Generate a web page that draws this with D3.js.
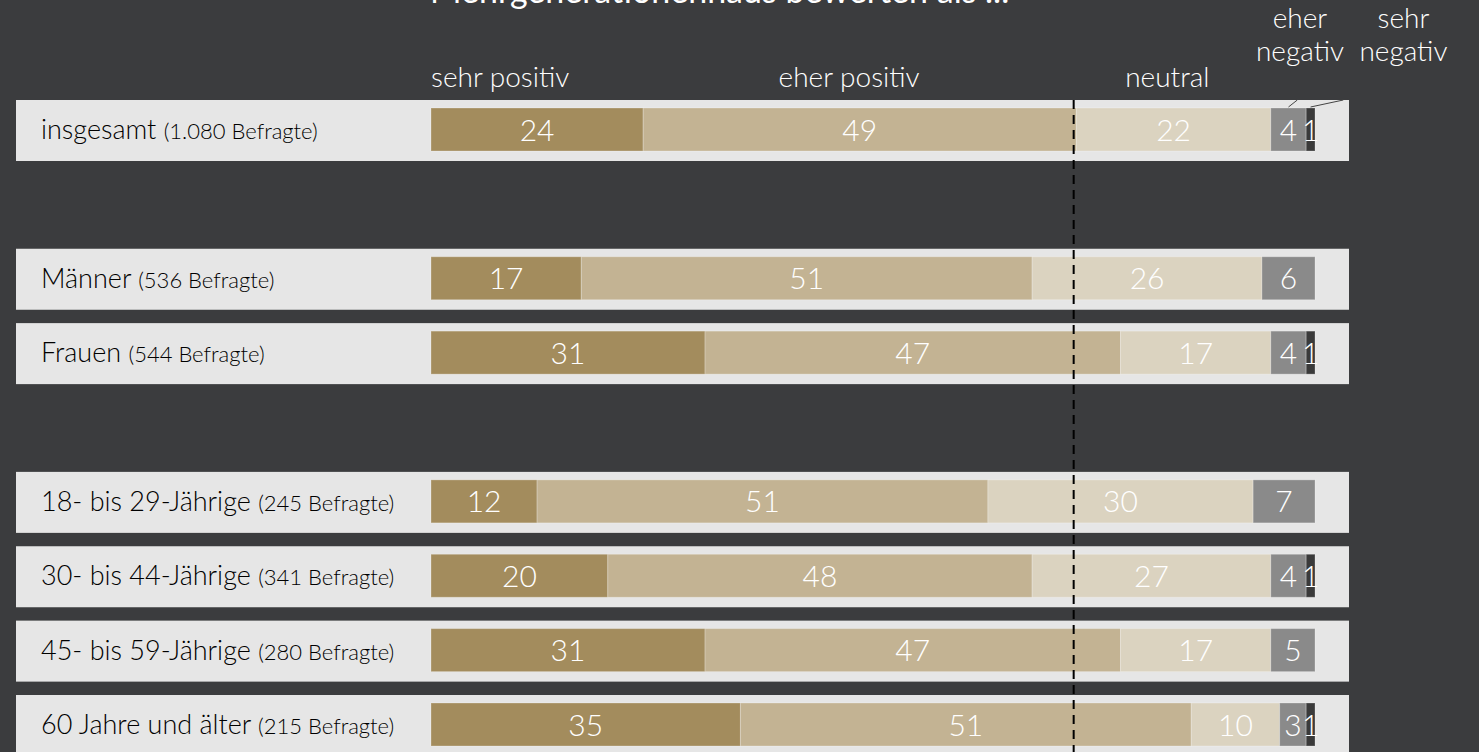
<!DOCTYPE html>
<html lang="de">
<head>
<meta charset="utf-8">
<script src="https://cdn.jsdelivr.net/npm/d3@7"></script>
<style>
  html, body { margin: 0; padding: 0; background: #3b3c3e; }
  svg { display: block; font-family: Lato, "Noto Sans", sans-serif; }
</style>
</head>
<body>
<svg id="chart" width="1479" height="752"></svg>
<script>
// Gruppen (insgesamt / Geschlecht / Alter) mit Befragtenzahl
const categories = ["insgesamt", "Männer", "Frauen", "18- bis 29-Jährige", "30- bis 44-Jährige", "45- bis 59-Jährige", "60 Jahre und älter"];
const respondents = [1080, 536, 544, 245, 341, 280, 215];
const groupIndex = [0, 1, 1, 2, 2, 2, 2];

// Anteile in Prozent
const sehrPositiv = [24, 17, 31, 12, 20, 31, 35];
const eherPositiv = [49, 51, 47, 51, 48, 47, 51];
const neutral     = [22, 26, 17, 30, 27, 17, 10];
const eherNegativ = [4, 6, 4, 7, 4, 5, 3];
const sehrNegativ = [1, 0, 1, 0, 1, 0, 1];

const seriesKeys = ["sehr positiv", "eher positiv", "neutral", "eher negativ", "sehr negativ"];
const seriesValues = [sehrPositiv, eherPositiv, neutral, eherNegativ, sehrNegativ];
const colors = ["#a38c5d", "#c3b393", "#dbd3c0", "#8a8a8a", "#3a3a3a"];
const title = "Mehrgenerationenhaus bewerten als ...";
const referenceValue = 72.7;

const svg = d3.select("#chart");
const de = d3.formatLocale({ decimal: ",", thousands: ".", grouping: [3], currency: ["", " €"] });
const fmtN = de.format(",d");

const rows = categories.map((c, i) => {
  const r = { label: c, n: respondents[i], slot: i + groupIndex[i] };
  seriesKeys.forEach((k, j) => r[k] = seriesValues[j][i]);
  return r;
});

const x = d3.scaleLinear().domain([0, 100]).range([431, 1315]);
const y = d3.scaleLinear().domain([0, 8]).range([100, 695]);
const color = d3.scaleOrdinal().domain(seriesKeys).range(colors);

const bandX0 = 16, bandX1 = 1349, bandH = 61, barTop = 8, barH = 43;

// Titel (oben angeschnitten)
svg.append("text")
  .attr("x", 430).attr("y", 3)
  .attr("fill", "#fff")
  .attr("font-size", 34)
  .text(title);

// Hintergrundbänder
svg.append("g").selectAll("rect")
  .data(rows).join("rect")
  .attr("x", bandX0).attr("width", bandX1 - bandX0)
  .attr("y", d => y(d.slot)).attr("height", bandH)
  .attr("fill", "#e6e6e6");

// Zeilenbeschriftung
const lbl = svg.append("g").selectAll("text")
  .data(rows).join("text")
  .attr("x", 41)
  .attr("y", d => y(d.slot) + 39)
  .attr("fill", "#000")
  .attr("font-weight", 300);
lbl.append("tspan").attr("font-size", 27).text(d => d.label + " ");
lbl.append("tspan").attr("font-size", 22).text(d => `(${fmtN(d.n)} Befragte)`);

// Gestapelte Balken
const stacked = d3.stack().keys(seriesKeys)(rows);
const layers = svg.append("g").selectAll("g")
  .data(stacked).join("g")
  .attr("fill", d => color(d.key));

layers.selectAll("rect")
  .data(d => d.filter(s => s[1] > s[0]))
  .join("rect")
  .attr("x", s => x(s[0]))
  .attr("width", s => x(s[1]) - x(s[0]))
  .attr("y", s => y(s.data.slot) + barTop)
  .attr("height", barH)
  .attr("stroke", "rgba(255,255,255,0.25)")
  .attr("stroke-width", 1);

layers.selectAll("text")
  .data(d => d.filter(s => s[1] > s[0]))
  .join("text")
  .attr("x", s => (x(s[0]) + x(s[1])) / 2)
  .attr("y", s => y(s.data.slot) + barTop + barH / 2 + 11)
  .attr("text-anchor", "middle")
  .attr("fill", "#fff")
  .attr("font-size", 30)
  .attr("font-weight", 300)
  .text(s => s[1] - s[0]);

// Gestrichelte Referenzlinie
svg.append("line")
  .attr("x1", x(referenceValue)).attr("x2", x(referenceValue))
  .attr("y1", y(0)).attr("y2", 752)
  .attr("stroke", "#000").attr("stroke-width", 2)
  .attr("stroke-dasharray", "9,6");

// Legende über den Balken
const legend = [
  { lines: ["sehr positiv"], at: 0, anchor: "start" },
  { lines: ["eher positiv"], at: 47.3, anchor: "middle" },
  { lines: ["neutral"], at: 83.3, anchor: "middle" },
  { lines: ["eher", "negativ"], at: 98.3, anchor: "middle" },
  { lines: ["sehr", "negativ"], at: 110.0, anchor: "middle" }
];
const lg = svg.append("g").selectAll("text")
  .data(legend).join("text")
  .attr("text-anchor", d => d.anchor)
  .attr("fill", "#fff")
  .attr("font-size", 28)
  .attr("font-weight", 300);
lg.selectAll("tspan")
  .data(d => d.lines.map((t, i, a) => ({ t, i, n: a.length, at: d.at })))
  .join("tspan")
  .attr("x", d => x(d.at))
  .attr("y", d => d.n === 1 ? 87 : (d.i === 0 ? 28 : 61))
  .text(d => d.t);

// Hinweislinien zu den schmalen Segmenten
const first = stacked.map(l => l[0]);
const leaders = [
  { from: 98.0, seg: first[3] },
  { from: 103.2, seg: first[4] }
];
svg.append("g").selectAll("line")
  .data(leaders).join("line")
  .attr("x1", d => x(d.from)).attr("y1", y(0))
  .attr("x2", d => (x(d.seg[0]) + x(d.seg[1])) / 2).attr("y2", y(0) + 7)
  .attr("stroke", "#444").attr("stroke-width", 1);
</script>
</body>
</html>
